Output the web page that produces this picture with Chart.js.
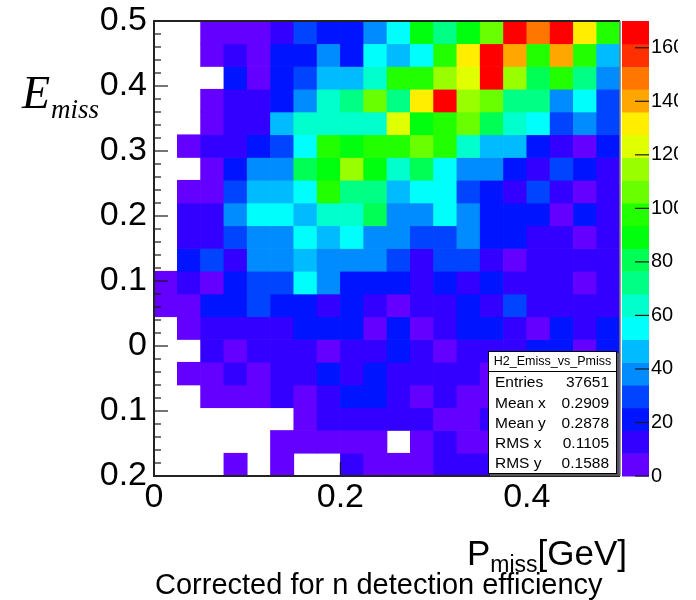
<!DOCTYPE html>
<html>
<head>
<meta charset="utf-8">
<script src="https://cdn.jsdelivr.net/npm/chart.js@4.4.1/dist/chart.umd.min.js"></script>
<style>
  html, body { margin: 0; padding: 0; background: #fff; }
  #plot { display: block; }
</style>
</head>
<body>
<canvas id="plot" width="678" height="600"></canvas>
<script>
// H2_Emiss_vs_Pmiss : 20 x 20 bins
const xMin = 0, xMax = 0.5, xBins = 20;
const yMin = -0.2, yMax = 0.5, yBins = 20;

const xTickLabels = ['0', '0.2', '0.4'];
const yTickLabels = ['0.2', '0.1', '0', '0.1', '0.2', '0.3', '0.4', '0.5'];
const zTickStep = 20;

// bin contents, one row per E_miss bin, top row (0.465 - 0.5) first; 0 = empty bin
const binCounts = [
  [0, 0, 5, 6, 5, 13, 30, 20, 22, 38, 53, 86, 71, 88, 104, 166, 145, 167, 131, 94],
  [0, 0, 6, 12, 7, 19, 23, 36, 21, 55, 46, 52, 96, 130, 170, 139, 96, 139, 97, 44],
  [0, 0, 0, 18, 7, 22, 27, 43, 47, 63, 97, 97, 113, 121, 164, 114, 80, 97, 70, 39],
  [0, 0, 4, 11, 14, 20, 36, 63, 72, 104, 71, 130, 165, 113, 104, 73, 72, 36, 54, 29],
  [0, 0, 7, 10, 13, 46, 63, 64, 62, 65, 122, 88, 97, 105, 80, 63, 54, 30, 38, 29],
  [0, 5, 12, 15, 19, 29, 55, 97, 88, 97, 96, 105, 97, 63, 46, 47, 21, 12, 6, 23],
  [0, 0, 6, 20, 37, 39, 80, 88, 113, 87, 63, 80, 54, 36, 40, 18, 14, 29, 22, 10],
  [0, 6, 5, 29, 46, 45, 54, 97, 72, 70, 46, 55, 53, 31, 21, 13, 28, 12, 7, 11],
  [0, 12, 14, 38, 54, 55, 46, 63, 64, 80, 37, 39, 54, 37, 19, 22, 20, 7, 21, 13],
  [0, 13, 11, 30, 37, 38, 54, 46, 56, 40, 37, 29, 31, 37, 21, 18, 14, 12, 6, 10],
  [0, 19, 28, 13, 37, 39, 46, 38, 37, 37, 29, 12, 28, 30, 13, 7, 11, 14, 12, 10],
  [5, 12, 7, 21, 29, 30, 54, 38, 19, 22, 20, 13, 21, 12, 18, 11, 14, 12, 6, 13],
  [6, 4, 22, 19, 29, 20, 23, 14, 21, 12, 7, 11, 13, 22, 12, 28, 14, 10, 13, 11],
  [0, 6, 11, 13, 10, 14, 20, 22, 19, 7, 21, 6, 12, 20, 18, 11, 5, 21, 13, 22],
  [0, 0, 12, 6, 14, 11, 13, 7, 10, 13, 19, 12, 5, 14, 11, 13, 21, 18, 7, 19],
  [0, 4, 6, 10, 5, 12, 14, 20, 11, 21, 13, 10, 12, 14, 6, 11, 12, 10, 13, 11],
  [0, 0, 5, 7, 4, 11, 6, 12, 19, 18, 13, 5, 11, 6, 4, 10, 12, 6, 11, 9],
  [0, 0, 0, 0, 0, 0, 5, 10, 12, 11, 13, 10, 6, 4, 11, 10, 6, 12, 9, 5],
  [0, 0, 0, 0, 0, 4, 5, 3, 6, 4, 0, 5, 11, 6, 4, 5, 10, 6, 12, 5],
  [0, 0, 0, 3, 0, 4, 0, 0, 10, 5, 4, 6, 12, 11, 10, 9, 5, 0, 6, 4]
];

const statLabels = ['Entries', 'Mean x', 'Mean y', 'RMS x', 'RMS y'];
const statValues = ['37651', '0.2909', '0.2878', '0.1105', '0.1588'];
const statTitle = 'H2_Emiss_vs_Pmiss';
const caption = 'Corrected for n detection efficiency';

// colour scale: 20 contour levels over the 50-colour rainbow palette
const nLevels = 20;
const zMax = Math.max(...binCounts.flat());
function levelColor(k) {
  const idx = Math.floor((k + 0.99) * 50 / nLevels);
  const hue = 280 - (idx + 1) * 280 / 50;
  return 'hsl(' + hue.toFixed(1) + ', 100%, 50%)';
}
function colorFor(v) {
  const k = Math.min(nLevels - 1, Math.floor(0.0001 + v * nLevels / zMax));
  return levelColor(k);
}

const dx = (xMax - xMin) / xBins;
const dy = (yMax - yMin) / yBins;

const datasets = binCounts.map((row, r) => {
  const hi = yMax - r * dy;
  const lo = hi - dy;
  return {
    data: row.map((v, c) => v > 0 ? { x: xMin + (c + 0.5) * dx, y: [lo, hi], v: v } : null)
             .filter(Boolean),
    backgroundColor: (ctx) => ctx.raw ? colorFor(ctx.raw.v) : '#000',
    borderWidth: 0,
    grouped: false,
    barPercentage: 1,
    categoryPercentage: 1
  };
});

const SANS = '"Liberation Sans", Arial, Helvetica, sans-serif';
const SERIF = '"Liberation Serif", "Times New Roman", serif';

// scales keep their full box; no extra room for half-labels
function noEdgePadding(s) {
  s.paddingTop = 0;
  s.paddingBottom = 0;
  s.paddingLeft = 0;
  s.paddingRight = 0;
}

const rootDecor = {
  id: 'rootDecor',
  afterDatasetsDraw(chart) {
    const { ctx, chartArea: a, scales } = chart;
    const x = scales.x, y = scales.y, z = scales.colz;
    ctx.save();

    // y axis ticks, drawn inside the frame
    ctx.strokeStyle = '#1a1a1a';
    ctx.lineWidth = 1.2;
    const nMinor = Math.round((yMax - yMin) / 0.02);
    for (let i = 0; i <= nMinor; i++) {
      const py = y.getPixelForValue(yMin + i * 0.02);
      const len = i % 5 === 0 ? 14 : 7;
      ctx.beginPath();
      ctx.moveTo(a.left, py);
      ctx.lineTo(a.left + len, py);
      ctx.stroke();
    }
    // x axis ticks
    x.ticks.forEach(t => {
      const px = x.getPixelForValue(t.value);
      ctx.beginPath();
      ctx.moveTo(px, a.bottom);
      ctx.lineTo(px, a.bottom - 14);
      ctx.stroke();
    });

    // frame
    ctx.strokeStyle = '#222';
    ctx.lineWidth = 2;
    ctx.beginPath();
    ctx.moveTo(a.right, a.top);
    ctx.lineTo(a.left, a.top);
    ctx.lineTo(a.left, a.bottom);
    ctx.lineTo(a.right, a.bottom);
    ctx.stroke();
    ctx.strokeStyle = '#777';
    ctx.lineWidth = 1.5;
    ctx.beginPath();
    ctx.moveTo(a.right, a.top);
    ctx.lineTo(a.right, a.bottom);
    ctx.stroke();

    // statistics box
    const bx1 = a.right - 3, by1 = a.bottom - 2;
    const bx0 = bx1 - 129, by0 = by1 - 123;
    ctx.fillStyle = '#555';
    ctx.fillRect(bx0 + 2, by1, bx1 - bx0, 2);
    ctx.fillRect(bx1, by0 + 2, 2, by1 - by0);
    ctx.fillStyle = '#fff';
    ctx.fillRect(bx0, by0, bx1 - bx0, by1 - by0);
    ctx.strokeStyle = '#000';
    ctx.lineWidth = 1;
    ctx.strokeRect(bx0 + 0.5, by0 + 0.5, bx1 - bx0 - 1, by1 - by0 - 1);
    ctx.beginPath();
    ctx.moveTo(bx0, by0 + 20.5);
    ctx.lineTo(bx1, by0 + 20.5);
    ctx.stroke();
    ctx.fillStyle = '#000';
    ctx.textBaseline = 'middle';
    ctx.font = '12.5px ' + SANS;
    ctx.textAlign = 'center';
    ctx.fillText(statTitle, (bx0 + bx1) / 2, by0 + 10.5);
    ctx.font = '15.5px ' + SANS;
    statLabels.forEach((lab, i) => {
      const ty = by0 + 32 + i * 20.3;
      ctx.textAlign = 'left';
      ctx.fillText(lab, bx0 + 7, ty);
      ctx.textAlign = 'right';
      ctx.fillText(statValues[i], bx1 - 8, ty);
    });

    // colour bar
    const cx0 = a.right + 2, cx1 = a.right + 29;
    for (let k = 0; k < nLevels; k++) {
      const yA = z.getPixelForValue(k * zMax / nLevels);
      const yB = z.getPixelForValue((k + 1) * zMax / nLevels);
      ctx.fillStyle = levelColor(k);
      ctx.fillRect(cx0, yB, cx1 - cx0, yA - yB + 0.5);
    }
    ctx.strokeStyle = '#1a1a1a';
    ctx.lineWidth = 1.2;
    z.ticks.forEach(t => {
      const py = z.getPixelForValue(t.value);
      ctx.beginPath();
      ctx.moveTo(cx1, py);
      ctx.lineTo(cx1 - 14, py);
      ctx.stroke();
    });
    ctx.restore();
  },
  afterDraw(chart) {
    const { ctx } = chart;
    ctx.save();
    ctx.fillStyle = '#000';
    ctx.textBaseline = 'alphabetic';
    ctx.textAlign = 'left';

    // y title: E_miss
    ctx.font = 'italic 46px ' + SERIF;
    ctx.fillText('E', 22, 108);
    const eW = ctx.measureText('E').width;
    ctx.font = 'italic 27px ' + SERIF;
    ctx.fillText('miss', 22 + eW + 1, 118);

    // x title: P_miss[GeV], right aligned
    const big = '35px ' + SANS, sub = '23px ' + SANS;
    ctx.font = big;
    const wP = ctx.measureText('P').width;
    const wG = ctx.measureText('[GeV]').width;
    ctx.font = sub;
    const wM = ctx.measureText('miss').width;
    let tx = 627 - (wP + wM + wG);
    ctx.font = big;
    ctx.fillText('P', tx, 565);
    ctx.font = sub;
    ctx.fillText('miss', tx + wP, 572);
    ctx.font = big;
    ctx.fillText('[GeV]', tx + wP + wM, 565);

    // caption
    ctx.font = '29px ' + SANS;
    ctx.fillText(caption, 155, 594);
    ctx.restore();
  }
};

new Chart(document.getElementById('plot'), {
  type: 'bar',
  data: { datasets },
  options: {
    responsive: false,
    animation: false,
    layout: { padding: { top: 21, right: 0, left: 0, bottom: 0 } },
    plugins: { legend: { display: false }, tooltip: { enabled: false } },
    scales: {
      x: {
        type: 'linear',
        min: xMin, max: xMax,
        offset: false,
        grid: { display: false, drawTicks: false },
        border: { display: false },
        ticks: {
          stepSize: 0.2,
          includeBounds: false,
          maxRotation: 0,
          padding: 1,
          color: '#000',
          font: { family: SANS, size: 34 },
          callback: (v, i) => xTickLabels[i]
        },
        afterFit: s => { s.height = 124; noEdgePadding(s); }
      },
      y: {
        type: 'linear',
        position: 'left',
        min: yMin, max: yMax,
        grid: { display: false, drawTicks: false },
        border: { display: false },
        ticks: {
          stepSize: 0.1,
          includeBounds: false,
          padding: 7,
          color: '#000',
          font: { family: SANS, size: 34 },
          callback: (v, i) => yTickLabels[i]
        },
        afterFit: s => { s.width = 154; noEdgePadding(s); }
      },
      colz: {
        type: 'linear',
        axis: 'y',
        position: 'right',
        display: true,
        min: 0, max: zMax,
        grid: { display: false, drawTicks: false },
        border: { display: false },
        ticks: {
          stepSize: zTickStep,
          includeBounds: false,
          padding: 31,
          color: '#000',
          font: { family: SANS, size: 20 }
        },
        afterFit: s => { s.width = 58; noEdgePadding(s); }
      }
    }
  },
  plugins: [rootDecor]
});
</script>
</body>
</html>
